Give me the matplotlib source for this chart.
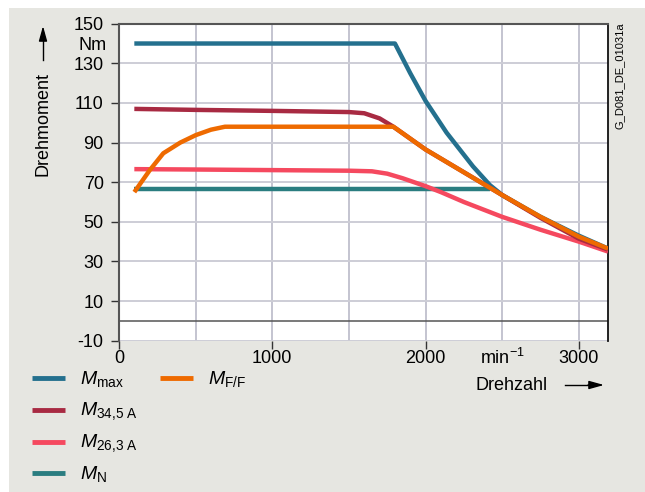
import matplotlib
matplotlib.use("Agg")
import matplotlib.pyplot as plt
from matplotlib.lines import Line2D
from matplotlib.patches import Rectangle

plt.rcParams['font.family'] = ['Liberation Sans', 'DejaVu Sans']
plt.rcParams['mathtext.fontset'] = 'custom'
plt.rcParams['mathtext.rm'] = 'Liberation Sans'
plt.rcParams['mathtext.it'] = 'Liberation Sans:italic'
plt.rcParams['mathtext.bf'] = 'Liberation Sans:bold'

# ---- data ----
mmax_x = [100, 1800, 1900, 2000, 2137, 2309, 2420, 2500, 2750, 3000, 3190]
mmax_y = [140, 140, 125, 111, 95, 78, 68.5, 63.5, 52.5, 43, 36.5]

m345_x = [100, 500, 1000, 1500, 1600, 1700, 1790, 2000, 2250, 2500, 2750, 3000, 3190]
m345_y = [107, 106.5, 106, 105.4, 104.8, 102.2, 98, 86.5, 75, 63.5, 52, 41.5, 36]

m263_x = [100, 500, 1000, 1500, 1650, 1750, 1850, 2000, 2100, 2250, 2500, 2750, 3000, 3190]
m263_y = [76.6, 76.4, 76.1, 75.8, 75.5, 74.3, 72, 68, 65, 60, 52.5, 46, 40, 35]

mn_x = [100, 2420]
mn_y = [66.7, 66.7]

mff_x = [100, 200, 289, 400, 502, 600, 691, 1000, 1500, 1790, 2000, 2250, 2500, 2750, 3000, 3190]
mff_y = [65, 76, 84.6, 90, 93.8, 96.5, 98, 98, 98, 98, 86.5, 75, 63.5, 52.5, 42.5, 36.5]

labels = [r'$M_{\mathrm{max}}$', r'$M_{\mathrm{34{,}5\ A}}$', r'$M_{\mathrm{26{,}3\ A}}$',
          r'$M_{\mathrm{N}}$', r'$M_{\mathrm{F/F}}$']
colors = ['#24708e', '#a82a42', '#f5495f', '#2a7d80', '#ee6a00']

xticks = [0, 1000, 2000, 3000]
xminor = [500, 1500, 2500]
yticks = [-10, 10, 30, 50, 70, 90, 110, 130, 150]

W, H = 645, 492
fig = plt.figure(figsize=(W / 100, H / 100), dpi=100, facecolor='white')
fig.add_artist(Rectangle((9 / W, 0), 1 - 9 / W, 1 - 8 / H, transform=fig.transFigure,
                         facecolor='#e6e6e1', edgecolor='none', zorder=-10))

ax = fig.add_axes([119 / W, 1 - 340.7 / H, (608 - 119) / W, (340.7 - 23.7) / H])
ax.set_facecolor('white')
ax.set_xlim(0, 3190)
ax.set_ylim(-10, 150)

ax.set_xticks(xticks)
ax.set_xticks(xminor, minor=True)
ax.set_yticks(yticks)
ax.set_xticklabels([str(v) for v in xticks], fontsize=13)
ax.set_yticklabels([str(v) for v in yticks], fontsize=13)
ax.tick_params(axis='x', which='major', direction='out', length=6, width=1, color='#333333', pad=1)
ax.tick_params(axis='x', which='minor', length=0)
ax.tick_params(axis='y', direction='out', length=6, width=1, color='#333333', pad=5)
ax.grid(True, which='both', axis='x', color='#c4c4d0', lw=1.4)
ax.grid(True, which='major', axis='y', color='#cdcdd6', lw=1.4)
ax.set_axisbelow(True)

for s in ['left', 'top']:
    ax.spines[s].set_color('#555555')
    ax.spines[s].set_linewidth(1.5)
ax.spines['right'].set_color('#111111')
ax.spines['right'].set_linewidth(1.3)
ax.spines['bottom'].set_visible(False)

ax.axhline(0, color='#555555', lw=1.1, zorder=1)

series = [(mmax_x, mmax_y), (m345_x, m345_y), (m263_x, m263_y), (mn_x, mn_y), (mff_x, mff_y)]
order = [3, 2, 0, 1, 4]
for i in order:
    x, y = series[i]
    ax.plot(x, y, color=colors[i], lw=3.2, solid_capstyle='butt', zorder=3 + order.index(i))

# min^-1 label
ax.text(2500, -10 - 7 / 1.981, 'min$^{\\mathrm{-1}}$', fontsize=13, ha='center', va='top')

# Nm label
fig.text(107 / W, 1 - 45 / H, 'Nm', fontsize=13, ha='right', va='center')

# y axis label with arrow
fig.text(43 / W, 1 - 123.5 / H, 'Drehmoment', fontsize=13, rotation=90, ha='center', va='center')
fig.add_artist(plt.Line2D([43 / W, 43 / W], [1 - 60 / H, 1 - 32 / H], color='black', lw=1,
                          transform=fig.transFigure))
ax.annotate('', xy=(43 / W, 1 - 26 / H), xytext=(43 / W, 1 - 40 / H), xycoords='figure fraction',
            arrowprops=dict(arrowstyle='-|>,head_length=0.9,head_width=0.25', color='black', lw=1,
                            shrinkA=0, shrinkB=0))

# x axis label with arrow
fig.text(512 / W, 1 - 385 / H, 'Drehzahl', fontsize=13, ha='center', va='center')
fig.add_artist(plt.Line2D([565 / W, 592 / W], [1 - 385 / H, 1 - 385 / H], color='black', lw=1,
                          transform=fig.transFigure))
ax.annotate('', xy=(604 / W, 1 - 385 / H), xytext=(588 / W, 1 - 385 / H), xycoords='figure fraction',
            arrowprops=dict(arrowstyle='-|>,head_length=0.9,head_width=0.25', color='black', lw=1,
                            shrinkA=0, shrinkB=0))

# right side code
fig.text(620 / W, 1 - 76 / H, 'G_D081_DE_01031a', fontsize=8, rotation=90, ha='center', va='center')

# legend
leg_pos = [(32, 378, 80), (32, 410, 80), (32, 441.7, 80), (32, 472.7, 80), (160, 378, 208)]
for i, (lx, ly, tx) in enumerate(leg_pos):
    fig.add_artist(Line2D([lx / W, (lx + 33) / W], [1 - ly / H, 1 - ly / H], color=colors[i], lw=3.5,
                          solid_capstyle='butt', transform=fig.transFigure))
    fig.text(tx / W, 1 - (ly + 1) / H, labels[i], fontsize=14, ha='left', va='center')

fig.savefig('out.png', dpi=100, facecolor='white')
